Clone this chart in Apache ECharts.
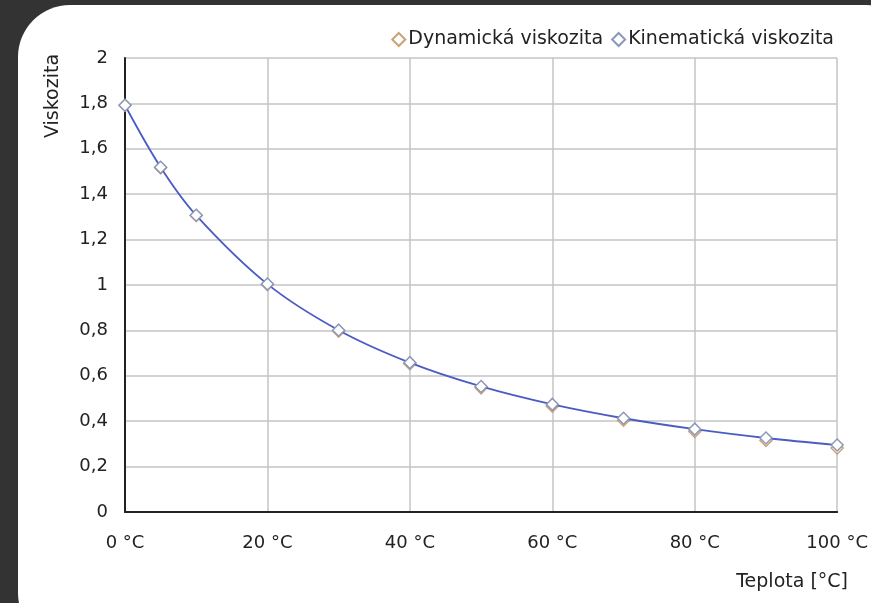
<!DOCTYPE html>
<html>
<head>
<meta charset="utf-8">
<script src="https://cdn.jsdelivr.net/npm/echarts@6/dist/echarts.min.js"></script>
<style>
  html, body { margin: 0; padding: 0; background: #333333; overflow: hidden; }
  #panel { position: absolute; left: 18px; top: 5px; width: 900px; height: 640px; background: #fff; border-radius: 52px; }
  #chart { position: absolute; left: 0; top: 0; width: 871px; height: 603px; }
</style>
</head>
<body>
<div id="panel"></div>
<div id="chart"></div>
<script>
  // teplota [°C]
  const temps = [0, 5, 10, 20, 30, 40, 50, 60, 70, 80, 90, 100];
  // dynamicka viskozita [mPa.s]
  const dynamic = [1.792, 1.516, 1.306, 1.002, 0.797, 0.653, 0.547, 0.466, 0.404, 0.355, 0.315, 0.282];
  // kinematicka viskozita [mm2/s]
  const kinematic = [1.792, 1.519, 1.307, 1.004, 0.801, 0.658, 0.553, 0.474, 0.413, 0.365, 0.326, 0.295];

  const seriesNames = ['Dynamická viskozita', 'Kinematická viskozita'];
  const xName = 'Teplota [°C]';
  const yName = 'Viskozita';

  const font = 'DejaVu Sans';
  const textColor = '#222';

  const chart = echarts.init(document.getElementById('chart'), null, { renderer: 'canvas' });

  const pairs = (ys) => temps.map((t, i) => [t, ys[i]]);

  chart.setOption({
    backgroundColor: 'transparent',
    animation: false,
    textStyle: { fontFamily: font },
    legend: {
      right: 32,
      top: 25,
      itemWidth: 13,
      itemHeight: 13,
      itemGap: 8,
      icon: 'diamond',
      textStyle: { fontFamily: font, fontSize: 19, color: textColor, padding: [0, 0, 0, -2] },
      data: seriesNames
    },
    grid: { left: 125, right: 33, top: 58, bottom: 91, containLabel: false },
    xAxis: {
      type: 'value',
      min: 0,
      max: 100,
      interval: 20,
      axisLine: { show: true, onZero: false, lineStyle: { color: '#222', width: 2 } },
      axisTick: { show: false },
      axisLabel: {
        margin: 22,
        fontFamily: font,
        fontSize: 18,
        color: textColor,
        formatter: (v) => v + ' °C'
      },
      splitLine: { show: true, lineStyle: { color: '#c4c4c4', width: 1.5 } }
    },
    yAxis: {
      type: 'value',
      min: 0,
      max: 2,
      interval: 0.2,
      axisLine: { show: true, lineStyle: { color: '#222', width: 2 } },
      axisTick: { show: false },
      axisLabel: {
        margin: 17,
        fontFamily: font,
        fontSize: 18,
        color: textColor,
        formatter: (v) => String(Math.round(v * 10) / 10).replace('.', ',')
      },
      splitLine: { show: true, lineStyle: { color: '#c4c4c4', width: 1.5 } }
    },
    graphic: [
      {
        type: 'text',
        x: 53,
        y: 96,
        rotation: Math.PI / 2,
        style: {
          text: yName,
          fontFamily: font,
          fontSize: 19,
          fill: textColor,
          align: 'center',
          verticalAlign: 'middle'
        }
      },
      {
        type: 'text',
        x: 848,
        y: 582,
        style: {
          text: xName,
          fontFamily: font,
          fontSize: 19,
          fill: textColor,
          align: 'right',
          verticalAlign: 'middle'
        }
      }
    ],
    series: [
      {
        name: seriesNames[0],
        type: 'scatter',
        symbol: 'diamond',
        symbolSize: 12,
        itemStyle: { color: '#fff', borderColor: '#c08a55', borderWidth: 1.5 },
        data: pairs(dynamic),
        z: 3
      },
      {
        name: seriesNames[1],
        type: 'line',
        smooth: 0.35,
        symbol: 'diamond',
        symbolSize: 12,
        showAllSymbol: true,
        lineStyle: { color: '#4a5cc4', width: 1.8 },
        itemStyle: { color: '#fff', borderColor: '#8b98b8', borderWidth: 1.5 },
        data: pairs(kinematic),
        z: 4
      }
    ]
  });
</script>
</body>
</html>
